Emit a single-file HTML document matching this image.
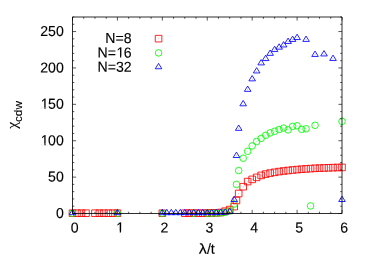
<!DOCTYPE html>
<html><head><meta charset="utf-8"><title>chi_cdw</title>
<style>
html,body{margin:0;padding:0;background:#fff;}
body{width:366px;height:256px;overflow:hidden;font-family:"Liberation Sans",sans-serif;}
svg{display:block;will-change:transform;}
text{font-family:"Liberation Sans",sans-serif;fill:#000;font-kerning:none;}
</style></head><body>
<svg width="366" height="256" viewBox="0 0 366 256">
<rect width="366" height="256" fill="#fff"/>
<g fill="none" stroke="#ff0000" stroke-width="0.85">
<path d="M155.25 35.35h6.6v6.6h-6.6z"/>
<path d="M69.2 209.9h6.6v6.6h-6.6z"/>
<path d="M73.69 209.9h6.6v6.6h-6.6z"/>
<path d="M78.18 209.9h6.6v6.6h-6.6z"/>
<path d="M82.67 209.9h6.6v6.6h-6.6z"/>
<path d="M91.66 209.9h6.6v6.6h-6.6z"/>
<path d="M96.15 209.9h6.6v6.6h-6.6z"/>
<path d="M100.64 209.9h6.6v6.6h-6.6z"/>
<path d="M105.13 209.9h6.6v6.6h-6.6z"/>
<path d="M109.62 209.9h6.6v6.6h-6.6z"/>
<path d="M114.12 209.9h6.6v6.6h-6.6z"/>
<path d="M159.03 209.9h6.6v6.6h-6.6z"/>
<path d="M181.49 209.9h6.6v6.6h-6.6z"/>
<path d="M185.98 209.9h6.6v6.6h-6.6z"/>
<path d="M190.47 209.9h6.6v6.6h-6.6z"/>
<path d="M194.97 209.9h6.6v6.6h-6.6z"/>
<path d="M199.46 209.9h6.6v6.6h-6.6z"/>
<path d="M203.95 209.9h6.6v6.6h-6.6z"/>
<path d="M208.44 209.7h6.6v6.6h-6.6z"/>
<path d="M212.93 209.55h6.6v6.6h-6.6z"/>
<path d="M217.42 209.2h6.6v6.6h-6.6z"/>
<path d="M221.92 207.9h6.6v6.6h-6.6z"/>
<path d="M226.41 206.3h6.6v6.6h-6.6z"/>
<path d="M230.9 203.3h6.6v6.6h-6.6z"/>
<path d="M233.15 197.2h6.6v6.6h-6.6z"/>
<path d="M235.39 190.2h6.6v6.6h-6.6z"/>
<path d="M239.88 183.4h6.6v6.6h-6.6z"/>
<path d="M244.37 178.3h6.6v6.6h-6.6z"/>
<path d="M248.87 176.1h6.6v6.6h-6.6z"/>
<path d="M253.36 174.1h6.6v6.6h-6.6z"/>
<path d="M257.85 172.1h6.6v6.6h-6.6z"/>
<path d="M262.34 170.8h6.6v6.6h-6.6z"/>
<path d="M266.83 169.8h6.6v6.6h-6.6z"/>
<path d="M271.32 169h6.6v6.6h-6.6z"/>
<path d="M275.82 168.3h6.6v6.6h-6.6z"/>
<path d="M280.31 167.7h6.6v6.6h-6.6z"/>
<path d="M284.8 167.2h6.6v6.6h-6.6z"/>
<path d="M289.29 166.7h6.6v6.6h-6.6z"/>
<path d="M293.78 166.3h6.6v6.6h-6.6z"/>
<path d="M298.27 165.9h6.6v6.6h-6.6z"/>
<path d="M302.77 165.6h6.6v6.6h-6.6z"/>
<path d="M307.26 165.3h6.6v6.6h-6.6z"/>
<path d="M311.75 165h6.6v6.6h-6.6z"/>
<path d="M316.24 164.8h6.6v6.6h-6.6z"/>
<path d="M320.73 164.65h6.6v6.6h-6.6z"/>
<path d="M325.22 164.5h6.6v6.6h-6.6z"/>
<path d="M329.72 164.35h6.6v6.6h-6.6z"/>
<path d="M334.21 164.2h6.6v6.6h-6.6z"/>
<path d="M338.7 164.1h6.6v6.6h-6.6z"/>
</g>
<g fill="#ff0000" fill-opacity="0.55">
<circle cx="158.55" cy="38.65" r="0.45"/>
<circle cx="72.5" cy="213.2" r="0.45"/>
<circle cx="76.99" cy="213.2" r="0.45"/>
<circle cx="81.48" cy="213.2" r="0.45"/>
<circle cx="85.97" cy="213.2" r="0.45"/>
<circle cx="94.96" cy="213.2" r="0.45"/>
<circle cx="99.45" cy="213.2" r="0.45"/>
<circle cx="103.94" cy="213.2" r="0.45"/>
<circle cx="108.43" cy="213.2" r="0.45"/>
<circle cx="112.92" cy="213.2" r="0.45"/>
<circle cx="117.42" cy="213.2" r="0.45"/>
<circle cx="162.33" cy="213.2" r="0.45"/>
<circle cx="184.79" cy="213.2" r="0.45"/>
<circle cx="189.28" cy="213.2" r="0.45"/>
<circle cx="193.78" cy="213.2" r="0.45"/>
<circle cx="198.27" cy="213.2" r="0.45"/>
<circle cx="202.76" cy="213.2" r="0.45"/>
<circle cx="207.25" cy="213.2" r="0.45"/>
<circle cx="211.74" cy="213" r="0.45"/>
<circle cx="216.23" cy="212.85" r="0.45"/>
<circle cx="220.72" cy="212.5" r="0.45"/>
<circle cx="225.22" cy="211.2" r="0.45"/>
<circle cx="229.71" cy="209.6" r="0.45"/>
<circle cx="234.2" cy="206.6" r="0.45"/>
<circle cx="236.45" cy="200.5" r="0.45"/>
<circle cx="238.69" cy="193.5" r="0.45"/>
<circle cx="243.18" cy="186.7" r="0.45"/>
<circle cx="247.67" cy="181.6" r="0.45"/>
<circle cx="252.17" cy="179.4" r="0.45"/>
<circle cx="256.66" cy="177.4" r="0.45"/>
<circle cx="261.15" cy="175.4" r="0.45"/>
<circle cx="265.64" cy="174.1" r="0.45"/>
<circle cx="270.13" cy="173.1" r="0.45"/>
<circle cx="274.62" cy="172.3" r="0.45"/>
<circle cx="279.12" cy="171.6" r="0.45"/>
<circle cx="283.61" cy="171" r="0.45"/>
<circle cx="288.1" cy="170.5" r="0.45"/>
<circle cx="292.59" cy="170" r="0.45"/>
<circle cx="297.08" cy="169.6" r="0.45"/>
<circle cx="301.57" cy="169.2" r="0.45"/>
<circle cx="306.07" cy="168.9" r="0.45"/>
<circle cx="310.56" cy="168.6" r="0.45"/>
<circle cx="315.05" cy="168.3" r="0.45"/>
<circle cx="319.54" cy="168.1" r="0.45"/>
<circle cx="324.03" cy="167.95" r="0.45"/>
<circle cx="328.52" cy="167.8" r="0.45"/>
<circle cx="333.02" cy="167.65" r="0.45"/>
<circle cx="337.51" cy="167.5" r="0.45"/>
<circle cx="342" cy="167.4" r="0.45"/>
</g>
<g fill="none" stroke="#00ff00" stroke-width="0.85">
<circle cx="158.55" cy="52.9" r="3.3"/>
<circle cx="72.5" cy="213.3" r="3.3"/>
<circle cx="117.42" cy="213.3" r="3.3"/>
<circle cx="162.33" cy="213.3" r="3.3"/>
<circle cx="193.78" cy="213.3" r="3.3"/>
<circle cx="207.25" cy="213.3" r="3.3"/>
<circle cx="211.74" cy="213.25" r="3.3"/>
<circle cx="216.23" cy="213.15" r="3.3"/>
<circle cx="220.72" cy="212.9" r="3.3"/>
<circle cx="225.22" cy="212.4" r="3.3"/>
<circle cx="229.71" cy="211" r="3.3"/>
<circle cx="234.2" cy="204.05" r="3.3"/>
<circle cx="236.45" cy="184.4" r="3.3"/>
<circle cx="238.69" cy="170.55" r="3.3"/>
<circle cx="243.18" cy="158.2" r="3.3"/>
<circle cx="247.67" cy="151.3" r="3.3"/>
<circle cx="252.17" cy="145.9" r="3.3"/>
<circle cx="256.66" cy="141.5" r="3.3"/>
<circle cx="261.15" cy="138.4" r="3.3"/>
<circle cx="265.64" cy="135.3" r="3.3"/>
<circle cx="270.13" cy="132.9" r="3.3"/>
<circle cx="274.62" cy="131.3" r="3.3"/>
<circle cx="279.12" cy="129.5" r="3.3"/>
<circle cx="283.61" cy="128.1" r="3.3"/>
<circle cx="288.1" cy="129.9" r="3.3"/>
<circle cx="292.59" cy="126.4" r="3.3"/>
<circle cx="297.08" cy="125.8" r="3.3"/>
<circle cx="301.57" cy="129.3" r="3.3"/>
<circle cx="306.07" cy="128.8" r="3.3"/>
<circle cx="310.56" cy="205.9" r="3.3"/>
<circle cx="315.05" cy="125.3" r="3.3"/>
<circle cx="342" cy="121.3" r="3.3"/>
</g>
<g fill="#00ff00" fill-opacity="0.55">
<circle cx="158.55" cy="52.9" r="0.45"/>
<circle cx="72.5" cy="213.3" r="0.45"/>
<circle cx="117.42" cy="213.3" r="0.45"/>
<circle cx="162.33" cy="213.3" r="0.45"/>
<circle cx="193.78" cy="213.3" r="0.45"/>
<circle cx="207.25" cy="213.3" r="0.45"/>
<circle cx="211.74" cy="213.25" r="0.45"/>
<circle cx="216.23" cy="213.15" r="0.45"/>
<circle cx="220.72" cy="212.9" r="0.45"/>
<circle cx="225.22" cy="212.4" r="0.45"/>
<circle cx="229.71" cy="211" r="0.45"/>
<circle cx="234.2" cy="204.05" r="0.45"/>
<circle cx="236.45" cy="184.4" r="0.45"/>
<circle cx="238.69" cy="170.55" r="0.45"/>
<circle cx="243.18" cy="158.2" r="0.45"/>
<circle cx="247.67" cy="151.3" r="0.45"/>
<circle cx="252.17" cy="145.9" r="0.45"/>
<circle cx="256.66" cy="141.5" r="0.45"/>
<circle cx="261.15" cy="138.4" r="0.45"/>
<circle cx="265.64" cy="135.3" r="0.45"/>
<circle cx="270.13" cy="132.9" r="0.45"/>
<circle cx="274.62" cy="131.3" r="0.45"/>
<circle cx="279.12" cy="129.5" r="0.45"/>
<circle cx="283.61" cy="128.1" r="0.45"/>
<circle cx="288.1" cy="129.9" r="0.45"/>
<circle cx="292.59" cy="126.4" r="0.45"/>
<circle cx="297.08" cy="125.8" r="0.45"/>
<circle cx="301.57" cy="129.3" r="0.45"/>
<circle cx="306.07" cy="128.8" r="0.45"/>
<circle cx="310.56" cy="205.9" r="0.45"/>
<circle cx="315.05" cy="125.3" r="0.45"/>
<circle cx="342" cy="121.3" r="0.45"/>
</g>
<g fill="none" stroke="#0000ff" stroke-width="0.85">
<path d="M158.55 63.4l-3.3 5.35h6.6z"/>
<path d="M72.5 209.3l-3.3 5.35h6.6z"/>
<path d="M117.42 209.3l-3.3 5.35h6.6z"/>
<path d="M162.33 209.3l-3.3 5.35h6.6z"/>
<path d="M166.82 209.3l-3.3 5.35h6.6z"/>
<path d="M171.32 209.3l-3.3 5.35h6.6z"/>
<path d="M175.81 209.3l-3.3 5.35h6.6z"/>
<path d="M180.3 209.3l-3.3 5.35h6.6z"/>
<path d="M184.79 209.3l-3.3 5.35h6.6z"/>
<path d="M189.28 209.3l-3.3 5.35h6.6z"/>
<path d="M193.78 209.3l-3.3 5.35h6.6z"/>
<path d="M198.27 209.3l-3.3 5.35h6.6z"/>
<path d="M202.76 209.3l-3.3 5.35h6.6z"/>
<path d="M207.25 209.3l-3.3 5.35h6.6z"/>
<path d="M211.74 209.3l-3.3 5.35h6.6z"/>
<path d="M216.23 209.2l-3.3 5.35h6.6z"/>
<path d="M220.72 209l-3.3 5.35h6.6z"/>
<path d="M225.22 208.8l-3.3 5.35h6.6z"/>
<path d="M229.71 208.2l-3.3 5.35h6.6z"/>
<path d="M234.2 196.2l-3.3 5.35h6.6z"/>
<path d="M236.45 152.15l-3.3 5.35h6.6z"/>
<path d="M238.69 125l-3.3 5.35h6.6z"/>
<path d="M243.18 100.45l-3.3 5.35h6.6z"/>
<path d="M247.67 86l-3.3 5.35h6.6z"/>
<path d="M252.17 75.5l-3.3 5.35h6.6z"/>
<path d="M256.66 67.6l-3.3 5.35h6.6z"/>
<path d="M261.15 59.55l-3.3 5.35h6.6z"/>
<path d="M265.64 55.2l-3.3 5.35h6.6z"/>
<path d="M270.13 50l-3.3 5.35h6.6z"/>
<path d="M274.62 46.2l-3.3 5.35h6.6z"/>
<path d="M279.12 43.8l-3.3 5.35h6.6z"/>
<path d="M283.61 41.6l-3.3 5.35h6.6z"/>
<path d="M288.1 38.1l-3.3 5.35h6.6z"/>
<path d="M292.59 36.1l-3.3 5.35h6.6z"/>
<path d="M297.08 34.2l-3.3 5.35h6.6z"/>
<path d="M306.07 36.05l-3.3 5.35h6.6z"/>
<path d="M315.05 51.1l-3.3 5.35h6.6z"/>
<path d="M324.03 50.6l-3.3 5.35h6.6z"/>
<path d="M333.02 55.1l-3.3 5.35h6.6z"/>
<path d="M342 196.15l-3.3 5.35h6.6z"/>
</g>
<g fill="#0000ff" fill-opacity="0.55">
<circle cx="158.55" cy="67.1" r="0.45"/>
<circle cx="72.5" cy="213" r="0.45"/>
<circle cx="117.42" cy="213" r="0.45"/>
<circle cx="162.33" cy="213" r="0.45"/>
<circle cx="166.82" cy="213" r="0.45"/>
<circle cx="171.32" cy="213" r="0.45"/>
<circle cx="175.81" cy="213" r="0.45"/>
<circle cx="180.3" cy="213" r="0.45"/>
<circle cx="184.79" cy="213" r="0.45"/>
<circle cx="189.28" cy="213" r="0.45"/>
<circle cx="193.78" cy="213" r="0.45"/>
<circle cx="198.27" cy="213" r="0.45"/>
<circle cx="202.76" cy="213" r="0.45"/>
<circle cx="207.25" cy="213" r="0.45"/>
<circle cx="211.74" cy="213" r="0.45"/>
<circle cx="216.23" cy="212.9" r="0.45"/>
<circle cx="220.72" cy="212.7" r="0.45"/>
<circle cx="225.22" cy="212.5" r="0.45"/>
<circle cx="229.71" cy="211.9" r="0.45"/>
<circle cx="234.2" cy="199.9" r="0.45"/>
<circle cx="236.45" cy="155.85" r="0.45"/>
<circle cx="238.69" cy="128.7" r="0.45"/>
<circle cx="243.18" cy="104.15" r="0.45"/>
<circle cx="247.67" cy="89.7" r="0.45"/>
<circle cx="252.17" cy="79.2" r="0.45"/>
<circle cx="256.66" cy="71.3" r="0.45"/>
<circle cx="261.15" cy="63.25" r="0.45"/>
<circle cx="265.64" cy="58.9" r="0.45"/>
<circle cx="270.13" cy="53.7" r="0.45"/>
<circle cx="274.62" cy="49.9" r="0.45"/>
<circle cx="279.12" cy="47.5" r="0.45"/>
<circle cx="283.61" cy="45.3" r="0.45"/>
<circle cx="288.1" cy="41.8" r="0.45"/>
<circle cx="292.59" cy="39.8" r="0.45"/>
<circle cx="297.08" cy="37.9" r="0.45"/>
<circle cx="306.07" cy="39.75" r="0.45"/>
<circle cx="315.05" cy="54.8" r="0.45"/>
<circle cx="324.03" cy="54.3" r="0.45"/>
<circle cx="333.02" cy="58.8" r="0.45"/>
<circle cx="342" cy="199.85" r="0.45"/>
</g>
<g fill="none" stroke="#000" stroke-opacity="0.82" stroke-width="1">
<path d="M72.5 17V213.5H342V17z"/>
<path stroke-width="0.8" d="M72.5 213.5v-3.6M72.5 17v3.6M83.73 213.5v-1.8M83.73 17v1.8M94.96 213.5v-1.8M94.96 17v1.8M106.19 213.5v-1.8M106.19 17v1.8M117.42 213.5v-3.6M117.42 17v3.6M128.65 213.5v-1.8M128.65 17v1.8M139.88 213.5v-1.8M139.88 17v1.8M151.1 213.5v-1.8M151.1 17v1.8M162.33 213.5v-3.6M162.33 17v3.6M173.56 213.5v-1.8M173.56 17v1.8M184.79 213.5v-1.8M184.79 17v1.8M196.02 213.5v-1.8M196.02 17v1.8M207.25 213.5v-3.6M207.25 17v3.6M218.48 213.5v-1.8M218.48 17v1.8M229.71 213.5v-1.8M229.71 17v1.8M240.94 213.5v-1.8M240.94 17v1.8M252.17 213.5v-3.6M252.17 17v3.6M263.4 213.5v-1.8M263.4 17v1.8M274.62 213.5v-1.8M274.62 17v1.8M285.85 213.5v-1.8M285.85 17v1.8M297.08 213.5v-3.6M297.08 17v3.6M308.31 213.5v-1.8M308.31 17v1.8M319.54 213.5v-1.8M319.54 17v1.8M330.77 213.5v-1.8M330.77 17v1.8M342 213.5v-3.6M342 17v3.6M72.5 213.5h3.6M342 213.5h-3.6M72.5 206.22h1.8M342 206.22h-1.8M72.5 198.94h1.8M342 198.94h-1.8M72.5 191.67h1.8M342 191.67h-1.8M72.5 184.39h1.8M342 184.39h-1.8M72.5 177.11h3.6M342 177.11h-3.6M72.5 169.83h1.8M342 169.83h-1.8M72.5 162.56h1.8M342 162.56h-1.8M72.5 155.28h1.8M342 155.28h-1.8M72.5 148h1.8M342 148h-1.8M72.5 140.72h3.6M342 140.72h-3.6M72.5 133.44h1.8M342 133.44h-1.8M72.5 126.17h1.8M342 126.17h-1.8M72.5 118.89h1.8M342 118.89h-1.8M72.5 111.61h1.8M342 111.61h-1.8M72.5 104.33h3.6M342 104.33h-3.6M72.5 97.06h1.8M342 97.06h-1.8M72.5 89.78h1.8M342 89.78h-1.8M72.5 82.5h1.8M342 82.5h-1.8M72.5 75.22h1.8M342 75.22h-1.8M72.5 67.94h3.6M342 67.94h-3.6M72.5 60.67h1.8M342 60.67h-1.8M72.5 53.39h1.8M342 53.39h-1.8M72.5 46.11h1.8M342 46.11h-1.8M72.5 38.83h1.8M342 38.83h-1.8M72.5 31.56h3.6M342 31.56h-3.6M72.5 24.28h1.8M342 24.28h-1.8M72.5 17h1.8M342 17h-1.8"/>
</g>
<g font-size="14.4" opacity="1" stroke="#000" stroke-width="0.12">
<text transform="translate(70.68,232.6) rotate(0.05) scale(0.98,1)">0</text>
<text transform="translate(115.59,232.6) rotate(0.05) scale(0.98,1)"><tspan dx="0.6">1</tspan></text>
<text transform="translate(160.51,232.6) rotate(0.05) scale(0.98,1)">2</text>
<text transform="translate(205.43,232.6) rotate(0.05) scale(0.98,1)">3</text>
<text transform="translate(250.34,232.6) rotate(0.05) scale(0.98,1)">4</text>
<text transform="translate(295.26,232.6) rotate(0.05) scale(0.98,1)">5</text>
<text transform="translate(340.18,232.6) rotate(0.05) scale(0.98,1)">6</text>
<text transform="translate(55.95,218) rotate(0.05) scale(0.98,1)">0</text>
<text transform="translate(48.1,181.61) rotate(0.05) scale(0.98,1)">50</text>
<text transform="translate(40.25,145.22) rotate(0.05) scale(0.98,1)"><tspan dx="0.6">1</tspan><tspan dx="-0.6">0</tspan>0</text>
<text transform="translate(40.25,108.83) rotate(0.05) scale(0.98,1)"><tspan dx="0.6">1</tspan><tspan dx="-0.6">5</tspan>0</text>
<text transform="translate(40.25,72.44) rotate(0.05) scale(0.98,1)">200</text>
<text transform="translate(40.25,36.06) rotate(0.05) scale(0.98,1)">250</text>
<text transform="translate(105.32,43.1) rotate(0.05) scale(0.98,1)">N=8</text>
<text transform="translate(97.47,57.5) rotate(0.05) scale(0.98,1)">N=<tspan dx="0.6">1</tspan><tspan dx="-0.6">6</tspan></text>
<text transform="translate(97.47,71.7) rotate(0.05) scale(0.98,1)">N=32</text>
<text transform="translate(198.79,253.7) rotate(0.05) scale(1.127,1)">λ</text>
<text transform="translate(206.91,253.7) rotate(0.05) scale(0.98,1)">/t</text>
<text transform="translate(17.0,128.7) rotate(-90) scale(1.08,1)" style="font-family:'Liberation Serif',serif" font-size="14.4">χ</text>
<text transform="translate(22.3,122.0) rotate(-90)" font-size="11.75">cdw</text>
</g>
<g fill="#fff"><rect x="116.66" y="230.92" width="3.07" height="2.28"/><rect x="120.98" y="230.92" width="2.96" height="2.28"/><rect x="41.32" y="143.55" width="3.07" height="2.28"/><rect x="45.64" y="143.55" width="2.96" height="2.28"/><rect x="41.32" y="107.16" width="3.07" height="2.28"/><rect x="45.64" y="107.16" width="2.96" height="2.28"/><rect x="116.97" y="55.82" width="3.07" height="2.28"/><rect x="121.29" y="55.82" width="2.96" height="2.28"/></g>
</svg>
</body></html>
